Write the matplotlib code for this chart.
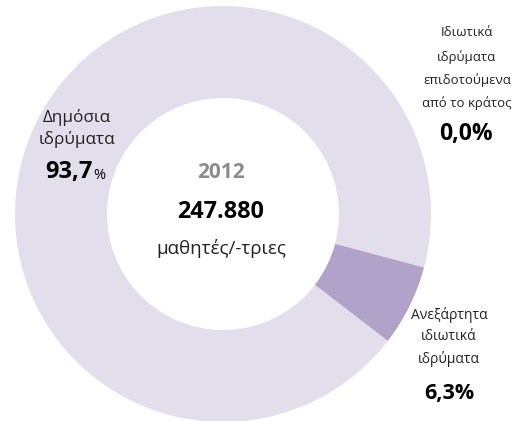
import matplotlib
matplotlib.use("Agg")
import matplotlib.pyplot as plt

categories = ["Δημόσια ιδρύματα", "Ανεξάρτητα ιδιωτικά ιδρύματα",
              "Ιδιωτικά ιδρύματα επιδοτούμενα από το κράτος"]
shares = [93.7, 6.3, 0.0]
year = "2012"
total = "247.880"
unit = "μαθητές/-τριες"
colors = ["#E3DEEC", "#B1A2C9", "#7F6AA6"]

plt.rcParams['font.family'] = ['Open Sans', 'DejaVu Sans']

W, H = 529, 421
fig = plt.figure(figsize=(W / 100, H / 100), dpi=100)
cx, cy, R = 223, 214, 208
ax = fig.add_axes([(cx - R) / W, (H - cy - R) / H, 2 * R / W, 2 * R / H])

ax.pie(shares, colors=colors, startangle=-14.9, counterclock=True, radius=1.0,
       wedgeprops=dict(width=1 - 116 / 208, linewidth=0))
ax.set_xlim(-1, 1)
ax.set_ylim(-1, 1)
ax.set_aspect('equal')
ax.axis('off')


def ftext(x, y, s, **kw):
    fig.text(x / W, 1 - y / H, s, **kw)


# centre
ftext(221, 172, year, ha='center', va='center', fontsize=15, fontweight='bold', color='#8C8C8C')
ftext(221, 212, total, ha='center', va='center', fontsize=16.8, fontweight='bold', color='black')
ftext(221, 248, unit, ha='center', va='center', fontsize=13.5, color='#222222')

# left label
ftext(77, 117, "Δημόσια", ha='center', va='center', fontsize=12.3, color='#222222')
ftext(77, 139, "ιδρύματα", ha='center', va='center', fontsize=12.3, color='#222222')
ftext(93, 172, "93,7", ha='right', va='center', fontsize=17, fontweight='bold', color='black')
ftext(93, 175, "%", ha='left', va='center', fontsize=10.5, color='black')

# upper right label
for yy, s in zip([33, 57, 80, 103], ["Ιδιωτικά", "ιδρύματα", "επιδοτούμενα", "από το κράτος"]):
    ftext(467, yy, s, ha='center', va='center', fontsize=9.5, color='#222222')
ftext(466, 134, "0,0%", ha='center', va='center', fontsize=16.5, fontweight='bold', color='black')

# lower right label
for yy, s in zip([315, 337, 359], ["Ανεξάρτητα", "ιδιωτικά", "ιδρύματα"]):
    ftext(449, yy, s, ha='center', va='center', fontsize=10, color='#222222')
ftext(449, 393, "6,3%", ha='center', va='center', fontsize=15.5, fontweight='bold', color='black')

fig.savefig("out.png", dpi=100, facecolor='white')
